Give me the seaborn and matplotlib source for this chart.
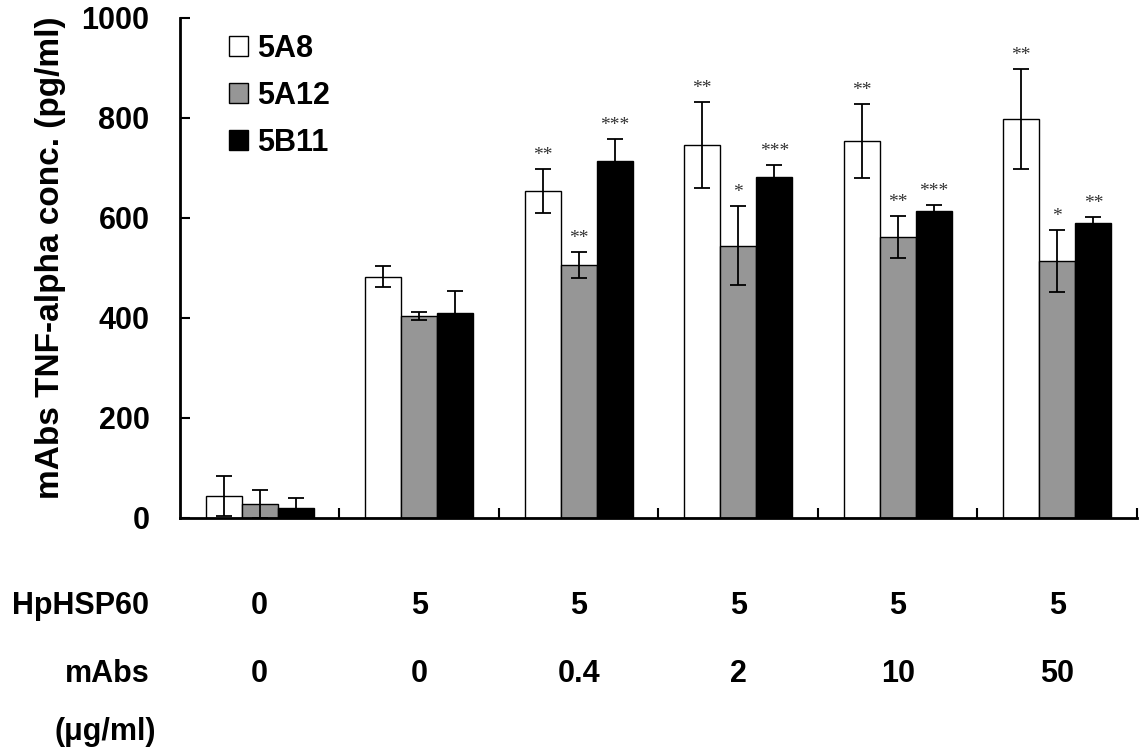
import numpy as np
import pandas as pd
import matplotlib
matplotlib.use('Agg')
import matplotlib.pyplot as plt
import matplotlib.transforms as mtransforms
import seaborn as sns

# dados
hsp60 = ['0', '5', '5', '5', '5', '5']
mabs_dose = ['0', '0', '0.4', '2', '10', '50']
anticorpos = ['5A8', '5A12', '5B11']

media_5a8 = [44, 482, 654, 746, 754, 798]
media_5a12 = [28, 404, 506, 544, 562, 514]
media_5b11 = [20, 410, 714, 682, 614, 590]

erro_5a8 = [40, 21, 44, 86, 74, 100]
erro_5a12 = [28, 8, 26, 79, 42, 62]
erro_5b11 = [20, 43, 44, 24, 12, 12]

estrelas_5a8 = ['', '', '**', '**', '**', '**']
estrelas_5a12 = ['', '', '**', '*', '**', '*']
estrelas_5b11 = ['', '', '***', '***', '***', '**']

cores = {'5A8': 'white', '5A12': '#969696', '5B11': 'black'}

condicoes = [f'{h} / {m}' for h, m in zip(hsp60, mabs_dose)]
medias = [media_5a8, media_5a12, media_5b11]
erros = [erro_5a8, erro_5a12, erro_5b11]
estrelas = [estrelas_5a8, estrelas_5a12, estrelas_5b11]

df = pd.DataFrame({
    'condicao': condicoes * 3,
    'anticorpo': [a for a in anticorpos for _ in condicoes],
    'valor': media_5a8 + media_5a12 + media_5b11,
})

sns.set_style('ticks')
plt.rcParams['font.family'] = ['Liberation Sans', 'DejaVu Sans']
plt.rcParams['font.weight'] = 'bold'
for k in ['text.color', 'axes.labelcolor', 'xtick.color', 'ytick.color', 'axes.edgecolor']:
    plt.rcParams[k] = 'black'

fig = plt.figure(figsize=(11.45, 7.51), dpi=100)
ax = fig.add_axes([0.1572, 0.3103, 0.8358, 0.6658])

sns.barplot(data=df, x='condicao', y='valor', hue='anticorpo', order=condicoes,
            hue_order=anticorpos, palette=cores, width=0.68, gap=0,
            edgecolor='black', linewidth=1.0, errorbar=None, ax=ax)

# barras de erro e asteriscos
for cont, med, err, est in zip(ax.containers, medias, erros, estrelas):
    xs = [p.get_x() + p.get_width() / 2 for p in cont.patches]
    ax.errorbar(xs, med, yerr=err, fmt='none', ecolor='black', elinewidth=1.3,
                capsize=6, capthick=1.3, zorder=5)
    for x, m, e, s in zip(xs, med, err, est):
        if s:
            ax.annotate(s, (x, m + e), xytext=(0, 9), textcoords='offset pixels',
                        ha='center', va='baseline', fontsize=14, color='#333333',
                        family='Liberation Serif', fontweight='normal')

ax.set_xlim(-0.5, 5.5)
ax.set_ylim(0, 1000)
ax.set_yticks([0, 200, 400, 600, 800, 1000])
ax.set_xticks(np.arange(0.5, 6, 1))
ax.set_xticklabels([])
ax.set_xlabel('')
ax.set_ylabel('mAbs TNF-alpha conc. (pg/ml)', fontsize=24, fontweight='bold', labelpad=11)
ax.yaxis.label.set_y(0.52)
ax.tick_params(axis='y', direction='in', length=7.5, width=1.5, labelsize=22, pad=22)
ax.tick_params(axis='x', direction='in', length=7.5, width=1.5)
for lbl in ax.get_yticklabels():
    lbl.set_fontweight('bold')
sns.despine(ax=ax)
for sp in ['left', 'bottom']:
    ax.spines[sp].set_linewidth(2)

leg = ax.legend(loc='upper left', bbox_to_anchor=(0.022, 1.023), frameon=False,
                prop={'size': 22, 'weight': 'bold'}, handlelength=0.65,
                handleheight=0.65, handletextpad=0.3, labelspacing=0.55)

# tabela de condições abaixo do eixo
trans = mtransforms.blended_transform_factory(ax.transData, fig.transFigure)
for i in range(len(condicoes)):
    ax.text(i, 0.193, hsp60[i], transform=trans, ha='center', va='center',
            fontsize=22, fontweight='bold')
    ax.text(i, 0.103, mabs_dose[i], transform=trans, ha='center', va='center',
            fontsize=22, fontweight='bold')
fig.text(0.130, 0.193, 'HpHSP60', ha='right', va='center', fontsize=22, fontweight='bold')
fig.text(0.131, 0.103, 'mAbs', ha='right', va='center', fontsize=22, fontweight='bold')
fig.text(0.092, 0.025, '(μg/ml)', ha='center', va='center', fontsize=22, fontweight='bold')

fig.savefig('out.png', dpi=100)
